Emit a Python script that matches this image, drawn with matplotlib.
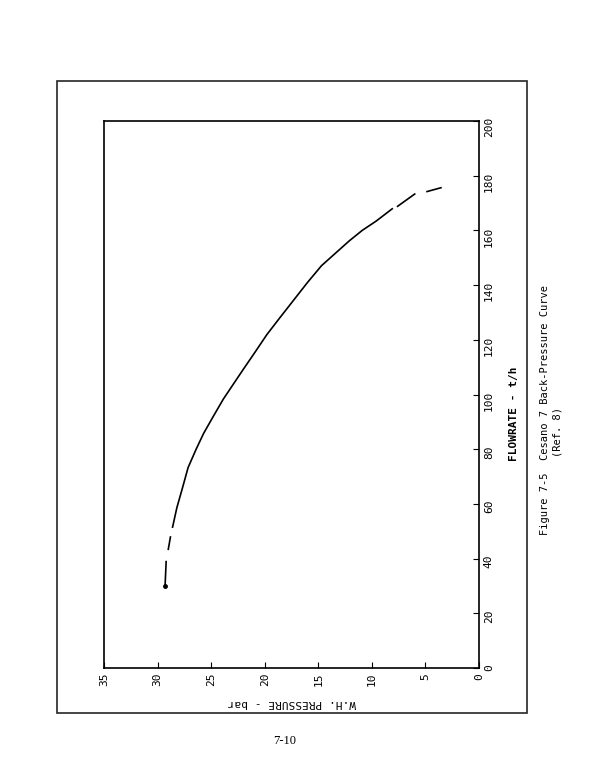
import matplotlib
matplotlib.use("Agg")
import matplotlib.pyplot as plt
from matplotlib.patches import Rectangle

# Cesano 7 back-pressure curve, read off the (rotated) page
# each segment is drawn solid; gaps between them give the dashed look
seg_pressure = [
    [29.3, 29.2],
    [29.0, 28.8],
    [28.6, 28.2, 27.7, 27.15, 26.4, 25.7, 24.8, 23.85, 22.0, 20.9, 19.8, 18.6,
     17.3, 16.0, 14.7, 13.3, 12.1, 10.9, 9.6, 8.1],
    [7.6, 6.0],
    [4.85, 3.55],
]
seg_flow = [
    [30.0, 38.9],
    [43.4, 47.9],
    [51.5, 58.6, 65.5, 73.3, 80.0, 85.8, 92.0, 98.4, 109.2, 115.5, 121.9, 128.0,
     134.5, 141.0, 147.1, 152.0, 156.2, 160.0, 163.4, 167.9],
    [168.8, 173.3],
    [174.2, 175.6],
]
pressure_ticks = [35, 30, 25, 20, 15, 10, 5, 0]
flow_ticks = list(range(0, 201, 20))

W, H = 612, 780
fig = plt.figure(figsize=(W / 100, H / 100), dpi=100)
font = "DejaVu Sans Mono"

# outer page frame
fig.patches.append(Rectangle((57 / W, 1 - 713 / H), (527 - 57) / W, (713 - 81) / H,
                             transform=fig.transFigure, fill=False, lw=1.2, color="0.15"))

ax = fig.add_axes([104 / W, 1 - 668 / H, (479 - 104) / W, (668 - 121) / H])
for p, f in zip(seg_pressure, seg_flow):
    ax.plot(p, f, color="black", lw=1.2, solid_joinstyle="round")
ax.plot(seg_pressure[0][0], seg_flow[0][0], "o", color="black", ms=2.5)

ax.set_xlim(35, 0)
ax.set_ylim(0, 200)
ax.set_xticks(pressure_ticks)
ax.set_yticks(flow_ticks)
ax.yaxis.tick_right()
ax.tick_params(direction="in", length=4, width=0.8, labelsize=8)
for lab in ax.get_xticklabels() + ax.get_yticklabels():
    lab.set_rotation(90)
    lab.set_family(font)
for s in ax.spines.values():
    s.set_linewidth(1.2)

fig.text(292 / W, 1 - 703 / H, "W.H. PRESSURE - bar", rotation=180, ha="center", va="center",
         fontsize=8, family=font)
fig.text(514 / W, 1 - 414 / H, "FLOWRATE - t/h", rotation=90, ha="center", va="center",
         fontsize=8, family=font, fontweight="bold")
fig.text(545 / W, 1 - 410 / H, "Figure 7-5  Cesano 7 Back-Pressure Curve", rotation=90,
         ha="center", va="center", fontsize=7.5, family=font)
fig.text(557 / W, 1 - 432 / H, "(Ref. 8)", rotation=90, ha="center", va="center",
         fontsize=7.5, family=font)
fig.text(285 / W, 1 - 741 / H, "7-10", ha="center", va="center", fontsize=9, family="Liberation Serif")

fig.savefig("out.png", dpi=100)
